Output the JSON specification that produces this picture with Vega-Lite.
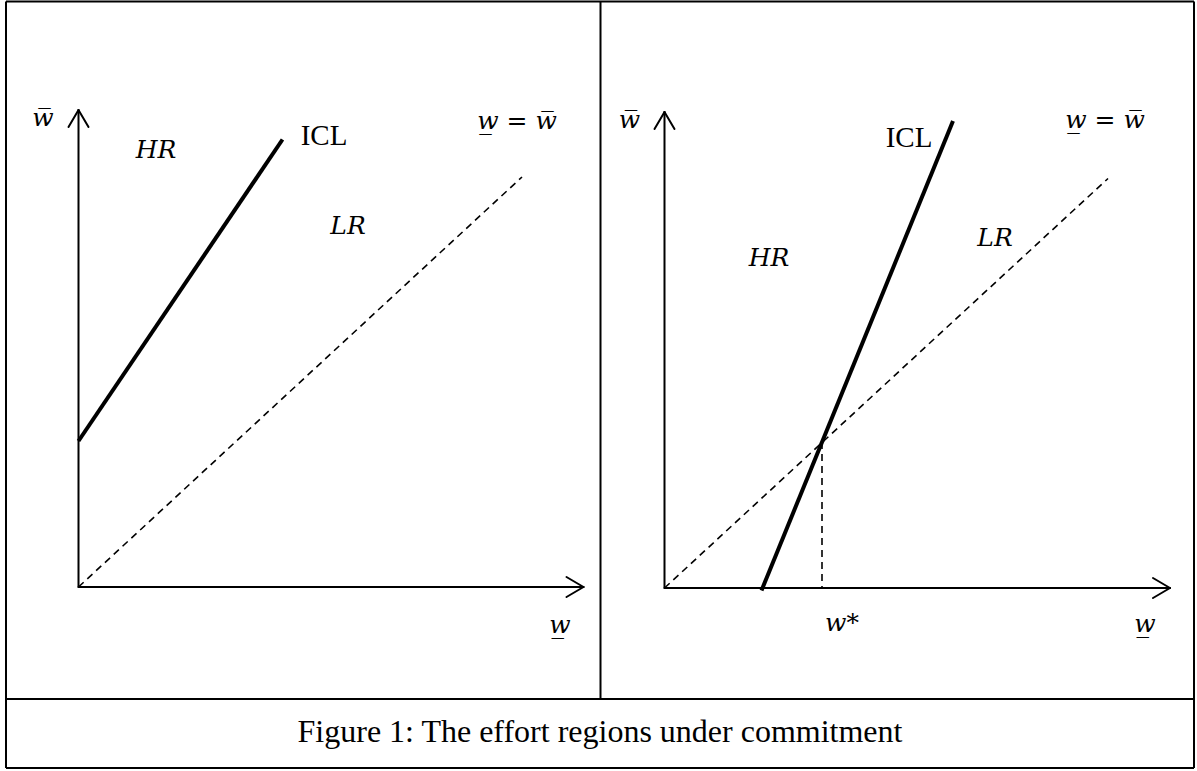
{
  "$schema": "https://vega.github.io/schema/vega-lite/v6.json",
  "width": 1197,
  "height": 771,
  "padding": 0,
  "autosize": {"type": "fit", "contains": "padding"},
  "background": "white",
  "config": {"view": {"stroke": null}},
  "datasets": {
    "segments": [
      {"grp": "frame", "x": 6, "y": 769.5, "x2": 1194, "y2": 769.5},
      {"grp": "frame", "x": 6, "y": 3, "x2": 1194, "y2": 3},
      {"grp": "frame", "x": 6, "y": 3, "x2": 6, "y2": 769.5},
      {"grp": "frame", "x": 1194, "y": 3, "x2": 1194, "y2": 769.5},
      {"grp": "frame", "x": 600.5, "y": 72, "x2": 600.5, "y2": 769.5},
      {"grp": "frame", "x": 6, "y": 72, "x2": 1194, "y2": 72},
      {"grp": "axis", "x": 78.5, "y": 184, "x2": 78.5, "y2": 661},
      {"grp": "axis", "x": 78.5, "y": 661, "x2": 68.5, "y2": 644},
      {"grp": "axis", "x": 78.5, "y": 661, "x2": 88.5, "y2": 644},
      {"grp": "axis", "x": 78.5, "y": 184, "x2": 583.5, "y2": 184},
      {"grp": "axis", "x": 583.5, "y": 184, "x2": 566.5, "y2": 194},
      {"grp": "axis", "x": 583.5, "y": 184, "x2": 566.5, "y2": 174},
      {"grp": "icl", "x": 78.5, "y": 330, "x2": 282.5, "y2": 631.5},
      {"grp": "dash", "x": 78.5, "y": 184, "x2": 522, "y2": 594},
      {"grp": "axis", "x": 664.5, "y": 183, "x2": 664.5, "y2": 659},
      {"grp": "axis", "x": 664.5, "y": 659, "x2": 654.5, "y2": 642},
      {"grp": "axis", "x": 664.5, "y": 659, "x2": 674.5, "y2": 642},
      {"grp": "axis", "x": 664.5, "y": 183, "x2": 1170, "y2": 183},
      {"grp": "axis", "x": 1170, "y": 183, "x2": 1153, "y2": 193},
      {"grp": "axis", "x": 1170, "y": 183, "x2": 1153, "y2": 173},
      {"grp": "icl", "x": 761.5, "y": 180.5, "x2": 953, "y2": 650},
      {"grp": "dash", "x": 664.5, "y": 183, "x2": 1108, "y2": 592.5},
      {"grp": "dash", "x": 822, "y": 329, "x2": 822, "y2": 183}
    ],
    "labels": [
      {"grp": "math", "x": 43, "y": 653, "text": "w\u0305"},
      {"grp": "math", "x": 156, "y": 621, "text": "HR"},
      {"grp": "roman", "x": 324, "y": 635, "text": "ICL"},
      {"grp": "math", "x": 348, "y": 545, "text": "LR"},
      {"grp": "math", "x": 517, "y": 650, "text": "w\u0332 = w\u0305"},
      {"grp": "math", "x": 560, "y": 146, "text": "w\u0332"},
      {"grp": "math", "x": 629.5, "y": 651, "text": "w\u0305"},
      {"grp": "roman", "x": 909, "y": 633, "text": "ICL"},
      {"grp": "math", "x": 1105, "y": 651, "text": "w\u0332 = w\u0305"},
      {"grp": "math", "x": 769, "y": 513, "text": "HR"},
      {"grp": "math", "x": 995, "y": 533, "text": "LR"},
      {"grp": "math", "x": 842, "y": 148, "text": "w*"},
      {"grp": "math", "x": 1145, "y": 147, "text": "w\u0332"},
      {"grp": "caption", "x": 600, "y": 39, "text": "Figure 1: The effort regions under commitment"}
    ]
  },
  "layer": [
    {
      "data": {"name": "segments"},
      "transform": [{"filter": "datum.grp === 'frame'"}],
      "mark": {"type": "rule", "color": "black", "strokeWidth": 2},
      "encoding": {
        "x": {"field": "x", "type": "quantitative", "scale": {"domain": [0, 1197], "nice": false, "zero": false}, "axis": null},
        "y": {"field": "y", "type": "quantitative", "scale": {"domain": [0, 771], "nice": false, "zero": false}, "axis": null},
        "x2": {"field": "x2"},
        "y2": {"field": "y2"}
      }
    },
    {
      "data": {"name": "segments"},
      "transform": [{"filter": "datum.grp === 'axis'"}],
      "mark": {"type": "rule", "color": "black", "strokeWidth": 2, "strokeCap": "round"},
      "encoding": {
        "x": {"field": "x", "type": "quantitative", "scale": {"domain": [0, 1197], "nice": false, "zero": false}, "axis": null},
        "y": {"field": "y", "type": "quantitative", "scale": {"domain": [0, 771], "nice": false, "zero": false}, "axis": null},
        "x2": {"field": "x2"},
        "y2": {"field": "y2"}
      }
    },
    {
      "data": {"name": "segments"},
      "transform": [{"filter": "datum.grp === 'icl'"}],
      "mark": {"type": "rule", "color": "black", "strokeWidth": 4},
      "encoding": {
        "x": {"field": "x", "type": "quantitative", "scale": {"domain": [0, 1197], "nice": false, "zero": false}, "axis": null},
        "y": {"field": "y", "type": "quantitative", "scale": {"domain": [0, 771], "nice": false, "zero": false}, "axis": null},
        "x2": {"field": "x2"},
        "y2": {"field": "y2"}
      }
    },
    {
      "data": {"name": "segments"},
      "transform": [{"filter": "datum.grp === 'dash'"}],
      "mark": {"type": "rule", "color": "black", "strokeWidth": 1.6, "strokeDash": [7, 5]},
      "encoding": {
        "x": {"field": "x", "type": "quantitative", "scale": {"domain": [0, 1197], "nice": false, "zero": false}, "axis": null},
        "y": {"field": "y", "type": "quantitative", "scale": {"domain": [0, 771], "nice": false, "zero": false}, "axis": null},
        "x2": {"field": "x2"},
        "y2": {"field": "y2"}
      }
    },
    {
      "data": {"name": "labels"},
      "transform": [{"filter": "datum.grp === 'math'"}],
      "mark": {"type": "text", "color": "black", "font": "DejaVu Serif", "fontStyle": "italic", "fontSize": 25, "align": "center", "baseline": "middle"},
      "encoding": {
        "x": {"field": "x", "type": "quantitative", "scale": {"domain": [0, 1197], "nice": false, "zero": false}, "axis": null},
        "y": {"field": "y", "type": "quantitative", "scale": {"domain": [0, 771], "nice": false, "zero": false}, "axis": null},
        "text": {"field": "text"}
      }
    },
    {
      "data": {"name": "labels"},
      "transform": [{"filter": "datum.grp === 'roman'"}],
      "mark": {"type": "text", "color": "black", "font": "Liberation Serif", "fontSize": 29, "align": "center", "baseline": "middle"},
      "encoding": {
        "x": {"field": "x", "type": "quantitative", "scale": {"domain": [0, 1197], "nice": false, "zero": false}, "axis": null},
        "y": {"field": "y", "type": "quantitative", "scale": {"domain": [0, 771], "nice": false, "zero": false}, "axis": null},
        "text": {"field": "text"}
      }
    },
    {
      "data": {"name": "labels"},
      "transform": [{"filter": "datum.grp === 'caption'"}],
      "mark": {"type": "text", "color": "black", "font": "Liberation Serif", "fontSize": 32, "align": "center", "baseline": "middle"},
      "encoding": {
        "x": {"field": "x", "type": "quantitative", "scale": {"domain": [0, 1197], "nice": false, "zero": false}, "axis": null},
        "y": {"field": "y", "type": "quantitative", "scale": {"domain": [0, 771], "nice": false, "zero": false}, "axis": null},
        "text": {"field": "text"}
      }
    }
  ]
}
